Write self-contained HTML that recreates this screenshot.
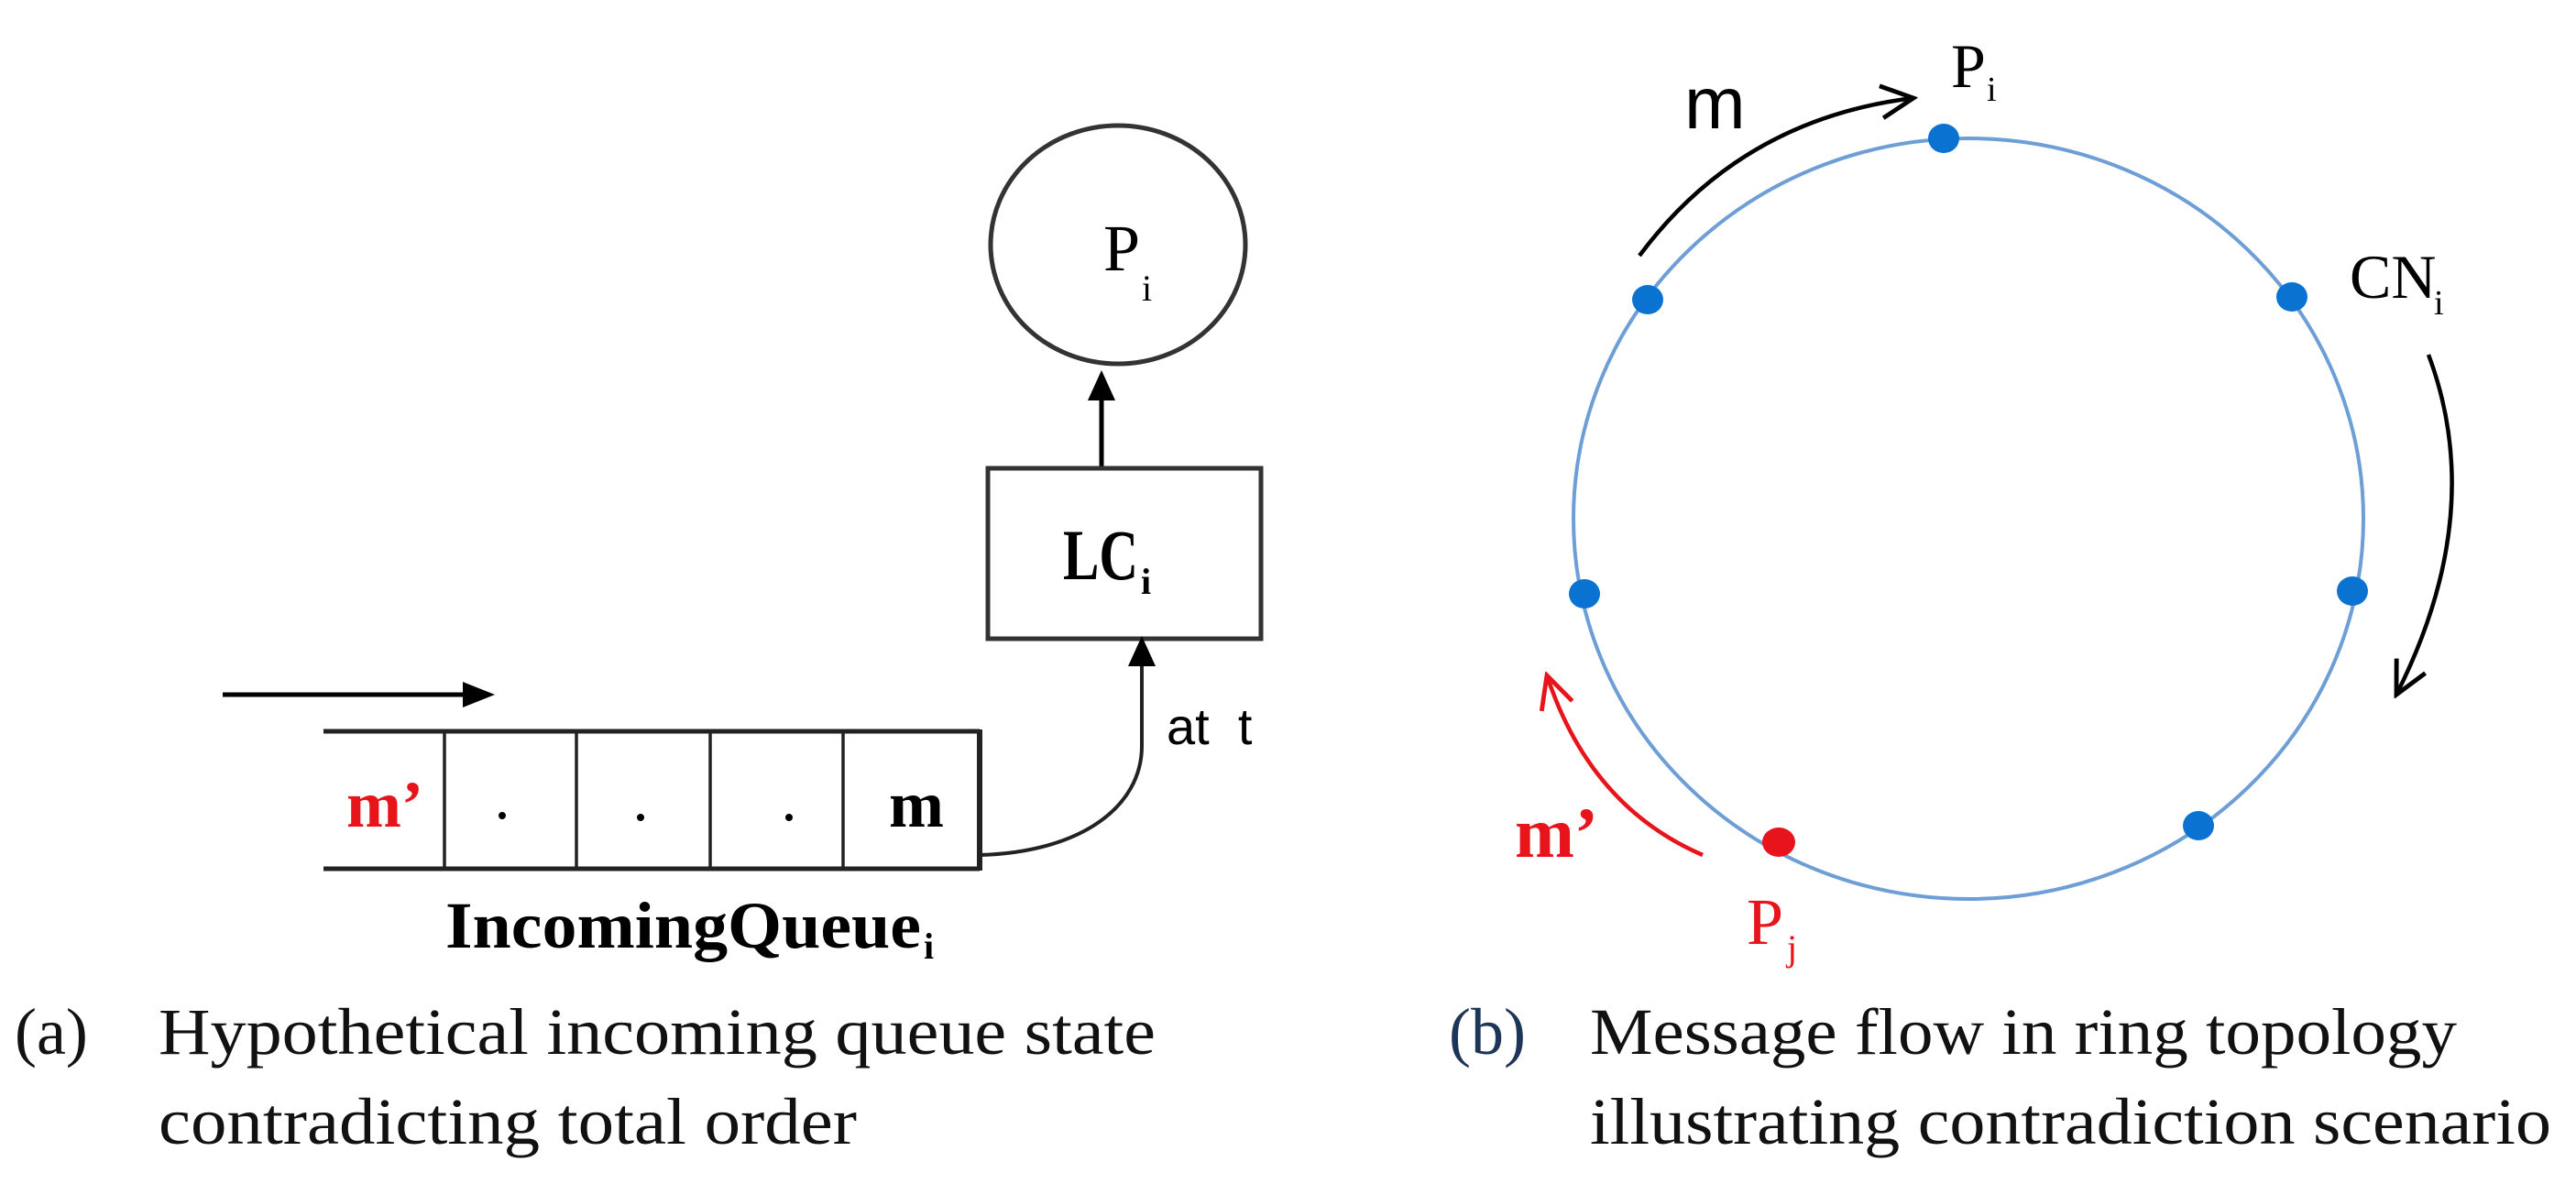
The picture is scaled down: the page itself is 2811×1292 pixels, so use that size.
<!DOCTYPE html>
<html><head><meta charset="utf-8"><style>
html,body{margin:0;padding:0;background:#fff;}
svg{display:block;}
</style></head><body>
<svg width="2811" height="1292" viewBox="0 0 2811 1292" xmlns="http://www.w3.org/2000/svg">
<defs>
<marker id="openK" markerUnits="userSpaceOnUse" markerWidth="44" markerHeight="44" viewBox="0 0 10 10" refX="9" refY="5" orient="auto">
<path d="M1,1 L9,5 L1,9" fill="none" stroke="#000" stroke-width="1.1"/>
</marker>
<marker id="openR" markerUnits="userSpaceOnUse" markerWidth="44" markerHeight="44" viewBox="0 0 10 10" refX="9" refY="5" orient="auto">
<path d="M1,1 L9,5 L1,9" fill="none" stroke="#e8141c" stroke-width="1.1"/>
</marker>
</defs>
<rect width="2811" height="1292" fill="#fff"/>

<!-- (a) -->
<ellipse cx="1220" cy="267" rx="139" ry="130" fill="none" stroke="#333" stroke-width="5"/>
<text x="1204" y="295" font-family="Liberation Serif, serif" font-size="72">P</text>
<text x="1246" y="328" font-family="Liberation Serif, serif" font-size="40">i</text>
<line x1="1202" y1="511" x2="1202" y2="432" stroke="#000" stroke-width="5"/>
<polygon points="1202,404 1187,437 1217,437" fill="#000"/>
<rect x="1078" y="511" width="298" height="186" fill="none" stroke="#333" stroke-width="5"/>
<text x="1160" y="632" font-family="Liberation Serif, serif" font-size="78" font-weight="bold" textLength="82" lengthAdjust="spacingAndGlyphs">LC</text>
<text x="1245" y="648" font-family="Liberation Serif, serif" font-size="40" font-weight="bold">i</text>

<line x1="243" y1="758" x2="510" y2="758" stroke="#000" stroke-width="5"/>
<polygon points="540,758 505,744 505,772" fill="#000"/>

<g stroke="#222" stroke-width="5" fill="none">
<line x1="353" y1="798" x2="1069" y2="798"/>
<line x1="353" y1="948" x2="1069" y2="948"/>
<line x1="1069" y1="796" x2="1069" y2="950" stroke-width="6"/>
<line x1="485" y1="798" x2="485" y2="948" stroke-width="3.5"/>
<line x1="629" y1="798" x2="629" y2="948" stroke-width="3.5"/>
<line x1="775" y1="798" x2="775" y2="948" stroke-width="3.5"/>
<line x1="920" y1="798" x2="920" y2="948" stroke-width="3.5"/>
<path d="M1069,933 C1180,930 1246,880 1246,814 L1246,724" stroke-width="4"/>
</g>
<polygon points="1246,694 1231,727 1261,727" fill="#000"/>
<text x="378" y="902" font-family="Liberation Serif, serif" font-size="72" font-weight="bold" fill="#e8141c">m’</text>
<circle cx="548" cy="890" r="4" fill="#000"/>
<circle cx="699" cy="892" r="4" fill="#000"/>
<circle cx="861" cy="892" r="4" fill="#000"/>
<text x="970" y="902" font-family="Liberation Serif, serif" font-size="72" font-weight="bold">m</text>
<text x="1273" y="812" font-family="Liberation Sans, sans-serif" font-size="56">at&#160;&#160;t</text>
<text x="486" y="1034" font-family="Liberation Serif, serif" font-size="72" font-weight="bold" textLength="519" lengthAdjust="spacingAndGlyphs">IncomingQueue</text>
<text x="1008" y="1046" font-family="Liberation Serif, serif" font-size="40" font-weight="bold">i</text>

<g font-family="Liberation Serif, serif" font-size="72" fill="#111">
<text x="16" y="1150">(a)</text>
<text x="173" y="1150" textLength="1088" lengthAdjust="spacingAndGlyphs">Hypothetical incoming queue state</text>
<text x="173" y="1248" textLength="762" lengthAdjust="spacingAndGlyphs">contradicting total order</text>
<text x="1581" y="1150" fill="#1d3557">(b)</text>
<text x="1735" y="1150" textLength="946" lengthAdjust="spacingAndGlyphs">Message flow in ring topology</text>
<text x="1735" y="1248" textLength="1049" lengthAdjust="spacingAndGlyphs">illustrating contradiction scenario</text>
</g>

<!-- (b) -->
<ellipse cx="2148" cy="566" rx="431" ry="415" fill="none" stroke="#6d9ed6" stroke-width="4"/>
<g fill="#0a72d0">
<ellipse cx="2121" cy="151" rx="17" ry="16"/>
<ellipse cx="1798" cy="327" rx="17" ry="16"/>
<ellipse cx="2501" cy="324" rx="17" ry="16"/>
<ellipse cx="1729" cy="648" rx="17" ry="16"/>
<ellipse cx="2567" cy="645" rx="17" ry="16"/>
<ellipse cx="2399" cy="901" rx="17" ry="16"/>
</g>
<ellipse cx="1941" cy="919" rx="18" ry="16" fill="#e8141c"/>

<path d="M1789,279 Q1900,130 2088,107" fill="none" stroke="#000" stroke-width="4.5" marker-end="url(#openK)"/>
<path d="M2650,387 Q2715,560 2615,758" fill="none" stroke="#000" stroke-width="4.5" marker-end="url(#openK)"/>
<path d="M1858,933 Q1735,880 1688,737" fill="none" stroke="#e8141c" stroke-width="4.5" marker-end="url(#openR)"/>

<text x="1838" y="140" font-family="Liberation Sans, sans-serif" font-size="80">m</text>
<text x="2129" y="95" font-family="Liberation Serif, serif" font-size="68">P</text>
<text x="2168" y="110" font-family="Liberation Serif, serif" font-size="38">i</text>
<text x="2564" y="325" font-family="Liberation Serif, serif" font-size="68">CN</text>
<text x="2656" y="343" font-family="Liberation Serif, serif" font-size="38">i</text>
<text x="1653" y="935" font-family="Liberation Serif, serif" font-size="78" font-weight="bold" fill="#e8141c">m’</text>
<text x="1906" y="1030" font-family="Liberation Serif, serif" font-size="72" fill="#e8141c">P</text>
<text x="1950" y="1048" font-family="Liberation Serif, serif" font-size="40" fill="#e8141c">j</text>
</svg>
</body></html>
